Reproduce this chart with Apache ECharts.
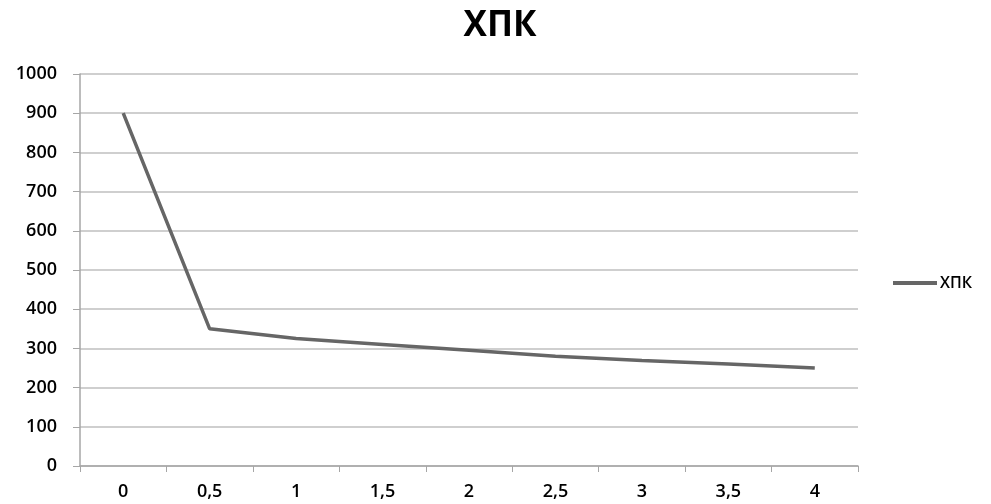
<!DOCTYPE html>
<html><head><meta charset="utf-8">
<script src="https://cdn.jsdelivr.net/npm/echarts@6/dist/echarts.min.js"></script>
<style>html,body{margin:0;padding:0;background:#fff}#c{width:991px;height:504px}</style>
</head><body><div id="c"></div>
<script>
const categories = ['0','0,5','1','1,5','2','2,5','3','3,5','4'];
const seriesName = 'ХПК';
const values = [900, 350, 325, 310, 295, 280, 269, 260, 250];
const yTicks = {min: 0, max: 1000, interval: 100};

const chart = echarts.init(document.getElementById('c'), null, {renderer: 'canvas'});
const font = '"Open Sans", "Noto Sans", sans-serif';
chart.setOption({
  animation: false,
  backgroundColor: '#fff',
  title: {text: seriesName, left: 500, top: 9, textAlign: 'center', padding: 0,
    textStyle: {fontFamily: font, fontWeight: 'bold', fontSize: 35, color: '#000'}},
  legend: {data: [{name: seriesName, icon: 'rect'}], left: 893, top: 275, padding: 0, itemWidth: 44, itemHeight: 4, itemGap: 3,
    textStyle: {fontFamily: font, fontSize: 16, fontWeight: 600, color: '#000', padding: [0,0,0,-2]}},
  grid: {left: 80, right: 133, top: 74, bottom: 38},
  xAxis: {type: 'category', data: categories, boundaryGap: true,
    axisLine: {lineStyle: {color: '#a6a6a6', width: 1.5}},
    axisTick: {show: true, length: 6, lineStyle: {color: '#a6a6a6'}, alignWithLabel: false},
    axisLabel: {fontFamily: font, fontSize: 18, fontWeight: 600, color: '#000', margin: 17}},
  yAxis: {type: 'value', min: yTicks.min, max: yTicks.max, interval: yTicks.interval,
    axisLine: {show: true, lineStyle: {color: '#a6a6a6', width: 1.5}},
    axisTick: {show: true, length: 7, lineStyle: {color: '#a6a6a6'}},
    splitLine: {lineStyle: {color: '#bfbfbf', width: 1.5}},
    axisLabel: {fontFamily: font, fontSize: 18, fontWeight: 600, color: '#000', margin: 23, formatter: v => String(v)}},
  series: [{name: seriesName, type: 'line', data: values, symbol: 'none',
    lineStyle: {color: '#666666', width: 3.5}, itemStyle: {color: '#666666'}}]
});
</script></body></html>
